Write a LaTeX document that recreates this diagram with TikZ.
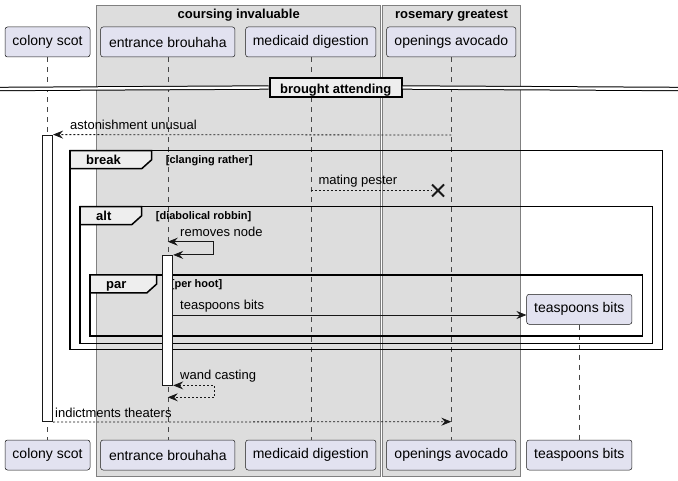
\documentclass[tikz,border=0pt]{standalone}
\usepackage{fontspec}
\setmainfont{Liberation Sans}
\usepackage{tikz}
\usetikzlibrary{arrows.meta,positioning,calc,shapes.misc}
\definecolor{partblue}{HTML}{E2E2F0}
\definecolor{boxgray}{HTML}{DDDDDD}
\definecolor{tabgray}{HTML}{EEEEEE}
\definecolor{darkline}{HTML}{181818}

\begin{document}
\begin{tikzpicture}[
      x=1pt, y=-1pt,
      groupbox/.style={rectangle, draw=gray, fill=boxgray, line width=0.8pt},
      grouptitle/.style={anchor=base, inner sep=0pt,
                         font=\fontsize{13}{15}\selectfont\bfseries},
      partbox/.style={rectangle, rounded corners=2.5pt, draw=darkline,
                      fill=partblue, line width=0.5pt, minimum height=30pt,
                      font=\fontsize{14}{16}\selectfont},
      lifeline/.style={draw=darkline!80, line width=0.5pt,
                       dash pattern=on 5pt off 5pt},
      actbar/.style={rectangle, draw=darkline, fill=white, line width=0.8pt,
                     minimum width=10pt, inner sep=0pt},
      divbox/.style={rectangle, draw=black, fill=tabgray, line width=2pt,
                     minimum height=18.4pt, minimum width=132pt},
      divtext/.style={anchor=base, inner sep=0pt,
                      font=\fontsize{13}{15}\selectfont\bfseries},
      divline/.style={draw=black, double=white, double distance=2.4pt,
                      line width=1pt},
      frame/.style={draw=black, line width=1.5pt},
      fraglabel/.style={anchor=base west, inner sep=0pt,
                        font=\fontsize{13}{15}\selectfont\bfseries},
      condlabel/.style={anchor=base west, inner sep=0pt,
                        font=\fontsize{11}{13}\selectfont\bfseries},
      msg/.style={-{Stealth[length=10pt, width=8pt, inset=3.5pt]},
                  draw=darkline, line width=0.8pt},
      reply/.style={msg, dash pattern=on 2pt off 2pt},
      dashline/.style={draw=darkline, line width=0.8pt,
                       dash pattern=on 2pt off 2pt},
      selfmsg/.style={{Stealth[length=10pt, width=8pt, inset=3.5pt]}-{Stealth[length=10pt, width=8pt, inset=3.5pt]},
                      draw=darkline, line width=0.8pt},
      selfreply/.style={selfmsg, dash pattern=on 2pt off 2pt},
      destroy/.style={cross out, draw=darkline, line width=2pt,
                      minimum size=10pt, inner sep=0pt},
      msglabel/.style={anchor=base west, inner sep=0pt,
                       font=\fontsize{13}{15}\selectfont}
    ]
      \useasboundingbox (0,0) rectangle (678,481);
      %% Grouping boxes
      \node[groupbox, minimum width=284pt, minimum height=471pt]
            (coursing) at (238.7,240.5) {};
      \node[grouptitle] (coursing-title) at ($(coursing.north)+(0,13.5)$)
            {coursing invaluable};
      \node[groupbox, minimum width=138.4pt, minimum height=471pt]
            (rosemary) at (451.5,240.5) {};
      \node[grouptitle] (rosemary-title) at ($(rosemary.north)+(0,13.5)$)
            {rosemary greatest};
      %% Participants and lifelines
      \foreach \name/\txt/\xpos/\w in {colony/colony scot/47.5/85,
                                        entrance/entrance brouhaha/167.8/134.3,
                                        medicaid/medicaid digestion/310.8/130.3,
                                        openings/openings avocado/451.3/129.3}{
        \node[partbox, minimum width=\w pt] (\name-top) at (\xpos,42) {\txt};
        \node[partbox, minimum width=\w pt] (\name-bot) at (\xpos,455) {\txt};
        \draw[lifeline] (\name-top) -- (\name-bot);
      }
      \node[partbox, minimum width=105.3pt] (teaspoons-top) at (579.3,309.3)
            {teaspoons bits};
      \node[partbox, minimum width=105.3pt] (teaspoons-bot) at (579.3,455)
            {teaspoons bits};
      \draw[lifeline] (teaspoons-top) -- (teaspoons-bot);
      %% Divider
      \node[divbox] (brought) at (335.7,87.5) {};
      \node[divtext] (brought-text) at (335.7,93.5) {brought attending};
      \coordinate (div-left) at (0,89);
      \coordinate (div-right) at (678,89);
      \draw[divline] (div-left) -- (brought.west);
      \draw[divline] (brought.east) -- (div-right);
      %% Combined fragments
      \foreach \fname/\cond/\xa/\ya/\xb/\yb/\tw in {
            break/clanging rather/70/150.7/662.7/349.3/81.7,
            alt/diabolical robbin/80/206.7/652.7/343.3/61.7,
            par/per hoot/90/275/642.7/336/66.7}{
        \draw[frame] (\xa,\ya) rectangle (\xb,\yb);
        \draw[frame, fill=tabgray] (\xa,\ya) -- ++(\tw,0) -- ++(0,9)
              -- ++(-10,9) -- (\xa,\ya+18) -- cycle;
        \node[fraglabel] (\fname-label) at (\xa+16,\ya+14) {\fname};
        \node[condlabel] (\fname-cond) at (\xa+\tw+14,\ya+13) {[\cond]};
      }
      %% Activation bars
      \node[actbar, minimum height=286.7pt] (colony-act) at (47.7,278.35) {};
      \node[actbar, minimum height=129.7pt] (entrance-act) at (167.8,320.15) {};
      %% Messages
      \coordinate (ast-start) at (451.3,135);
      \draw[reply] (ast-start) -- (colony-act.north east);
      \node[msglabel] (ast-label) at (70,130) {astonishment unusual};
      \coordinate (mat-start) at (310.8,190.5);
      \node[destroy] (mat-x) at (438,190.5) {};
      \draw[dashline] (mat-start) -- (mat-x.west);
      \node[msglabel] (mat-label) at (318.3,185) {mating pester};
      \coordinate (rem-start) at (167.8,241.7);
      \draw[selfmsg] (rem-start) -- ++(45.7,0) |- (entrance-act.north east);
      \node[msglabel] (rem-label) at (180,237) {removes node};
      \coordinate (tea-start) at (172.8,315);
      \draw[msg] (tea-start) -- (teaspoons-top.west |- tea-start);
      \node[msglabel] (tea-label) at (180,310) {teaspoons bits};
      \coordinate (wand-end) at (167.8,397.3);
      \draw[selfreply] (entrance-act.south east) -- ++(41.5,0) |- (wand-end);
      \node[msglabel] (wand-label) at (180,379) {wand casting};
      \coordinate (ind-end) at (451.3,421.7);
      \draw[reply] (colony-act.south east) -- (ind-end);
      \node[msglabel] (ind-label) at (55,417) {indictments theaters};
    \end{tikzpicture}
\end{document}
